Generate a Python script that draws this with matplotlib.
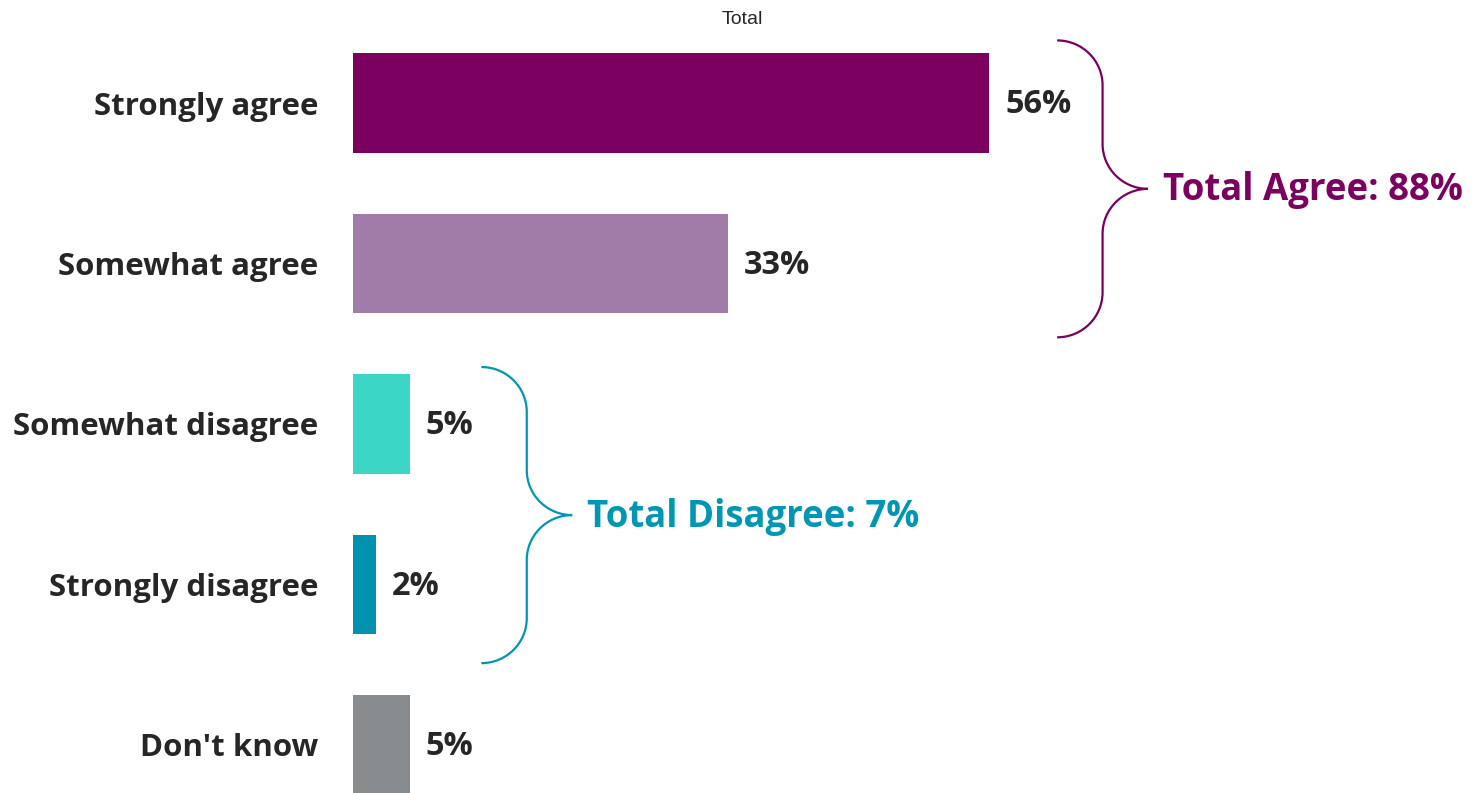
import matplotlib
matplotlib.use("Agg")
import matplotlib.pyplot as plt
from matplotlib.path import Path
from matplotlib.patches import PathPatch

# data
categories = ["Strongly agree", "Somewhat agree", "Somewhat disagree",
              "Strongly disagree", "Don't know"]
values = [56, 33, 5, 2, 5]
bar_colors = ["#7B0060", "#A27CA8", "#3BD6C6", "#0092B0", "#898C8E"]
group_labels = ["Total Agree: 88%", "Total Disagree: 7%"]
group_rows = [(0, 1), (2, 3)]
group_colors = ["#7B0060", "#0096B4"]

W, H = 1473, 793
fig = plt.figure(figsize=(W / 100, H / 100), dpi=100)
ax = fig.add_axes([353 / W, 0, 1 - 353 / W, 1])

px_per_unit = 636 / 56
row_px = 160.5
ax.set_xlim(0, (W - 353) / px_per_unit)
ax.set_ylim((H - 103) / row_px, -103 / row_px)

ypos = list(range(len(categories)))
ax.barh(ypos, values, height=0.62, color=bar_colors)

for y, v in zip(ypos, values):
    ax.text(v + 16 / px_per_unit, y + 0.01, f"{v}%", ha="left", va="center",
            fontsize=23.4, fontweight="bold", family="Open Sans", color="#262626")

ax.set_yticks(ypos)
ax.set_yticklabels(categories, fontsize=22.5, fontweight="bold",
                   family="Open Sans", color="#262626")
ax.tick_params(axis="y", length=0, pad=25)
ax.set_xticks([])
for s in ax.spines.values():
    s.set_visible(False)


def brace(x0, y_top, y_bot, color, w=8.0, ry=0.28):
    rx = w / 2
    k = 0.552
    ym = (y_top + y_bot) / 2
    xv = x0 + rx
    verts = [
        (x0, y_top),
        (x0 + k * rx, y_top), (xv, y_top + ry - k * ry), (xv, y_top + ry),
        (xv, ym - ry),
        (xv, ym - ry + k * ry), (x0 + w - k * rx, ym), (x0 + w, ym),
        (x0 + w - k * rx, ym), (xv, ym + ry - k * ry), (xv, ym + ry),
        (xv, y_bot - ry),
        (xv, y_bot - ry + k * ry), (x0 + k * rx, y_bot), (x0, y_bot),
    ]
    codes = [Path.MOVETO] + [Path.CURVE4] * 3 + [Path.LINETO] + [Path.CURVE4] * 6 \
        + [Path.LINETO] + [Path.CURVE4] * 3
    ax.add_patch(PathPatch(Path(verts, codes), fill=False, edgecolor=color,
                           lw=1.6, clip_on=False))
    return x0 + w, ym


# brace extents relative to the grouped rows (top pad, bottom pad, x gap)
brace_pads = [(-0.39, 0.46, 6.0), (-0.355, 0.49, 6.3)]

for label, (r0, r1), col, (pt, pb, gap) in zip(group_labels, group_rows,
                                               group_colors, brace_pads):
    top_v = max(values[r0], values[r1])
    xt, ym = brace(top_v + gap, r0 + pt, r1 + pb, col)
    ax.text(xt + 15 / px_per_unit, ym + 0.01, label, ha="left", va="center",
            fontsize=26.4, fontweight="bold", family="Open Sans", color=col)

fig.text(742 / W, 1 - 20 / H, "Total", ha="center", va="center",
         fontsize=14, family="Liberation Sans", color="#262626")

fig.savefig("out.png", dpi=100, facecolor="white")
